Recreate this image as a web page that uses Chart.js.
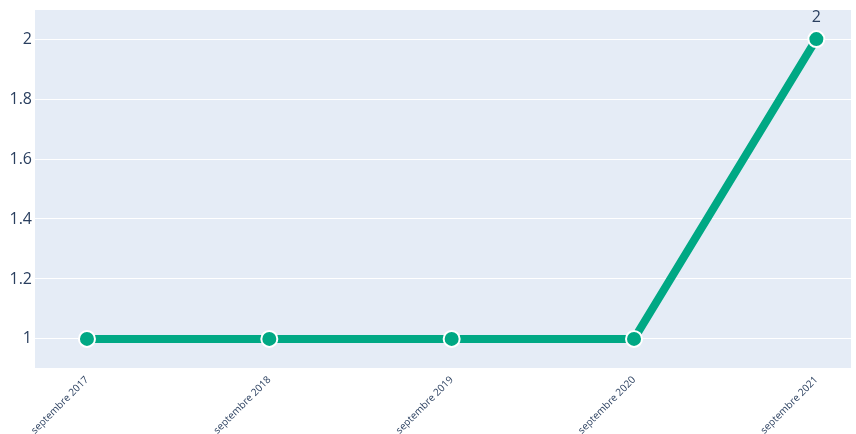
<!DOCTYPE html>
<html>
<head>
<meta charset="utf-8">
<script src="https://cdn.jsdelivr.net/npm/chart.js@4"></script>
<style>
html,body{margin:0;padding:0;background:#fff;}
#wrap{width:856px;height:434px;}
</style>
</head>
<body>
<div id="wrap"><canvas id="c" width="856" height="434"></canvas></div>
<script>
const categories = ["septembre 2017","septembre 2018","septembre 2019","septembre 2020","septembre 2021"];
const values = [1, 1, 1, 1, 2];
const pointTexts = ["", "", "", "", "2"];
const yTicks = [1, 1.2, 1.4, 1.6, 1.8, 2];

const textColor = '#2a3f5f';
const lineColor = '#00a884';

const bgPlugin = {
  id: 'plotbg',
  beforeDraw(chart) {
    const {ctx, chartArea: a} = chart;
    ctx.save();
    ctx.fillStyle = '#E5ECF6';
    ctx.fillRect(a.left, a.top, a.right - a.left, a.bottom - a.top);
    ctx.restore();
  }
};
const textPlugin = {
  id: 'ptext',
  afterDatasetsDraw(chart) {
    const {ctx} = chart;
    const meta = chart.getDatasetMeta(0);
    ctx.save();
    ctx.fillStyle = textColor;
    ctx.font = '16px "Open Sans", sans-serif';
    ctx.textAlign = 'center';
    ctx.textBaseline = 'middle';
    meta.data.forEach((pt, i) => {
      if (pointTexts[i]) ctx.fillText(pointTexts[i], pt.x, pt.y - 22);
    });
    ctx.restore();
  }
};

new Chart(document.getElementById('c'), {
  type: 'line',
  data: {
    datasets: [{
      data: values.map((v, i) => ({x: i, y: v})),
      borderColor: lineColor,
      borderWidth: 8,
      pointRadius: 8,
      pointBorderWidth: 2,
      pointBorderColor: '#ffffff',
      pointBackgroundColor: lineColor,
      pointHoverRadius: 8,
      tension: 0,
      clip: false
    }]
  },
  options: {
    responsive: false,
    animation: false,
    events: [],
    layout: {autoPadding: false, padding: {top: 10, right: 5, left: 0, bottom: 0}},
    plugins: {legend: {display: false}, tooltip: {enabled: false}},
    scales: {
      x: {
        type: 'linear',
        min: -0.285,
        max: 4.19,
        grid: {display: false, drawTicks: false},
        border: {display: false},
        afterBuildTicks(s) { s.ticks = categories.map((c, i) => ({value: i})); },
        afterFit(s) { s.height = 66; s.paddingLeft = 0; s.paddingRight = 0; },
        ticks: {
          autoSkip: false,
          minRotation: 45,
          maxRotation: 45,
          padding: 6,
          color: textColor,
          font: {family: '"Open Sans", sans-serif', size: 10},
          callback: (v) => categories[v] ?? ''
        }
      },
      y: {
        type: 'linear',
        min: 0.903,
        max: 2.097,
        grid: {color: '#ffffff', lineWidth: 1, drawTicks: false},
        border: {display: false},
        afterBuildTicks(s) { s.ticks = yTicks.map(v => ({value: v})); },
        afterFit(s) { s.width = 35; s.paddingTop = 0; s.paddingBottom = 0; },
        ticks: {
          padding: 3,
          color: textColor,
          font: {family: '"Open Sans", sans-serif', size: 16},
          callback: (v) => String(Math.round(v * 10) / 10)
        }
      }
    }
  },
  plugins: [bgPlugin, textPlugin]
});
</script>
</body>
</html>
